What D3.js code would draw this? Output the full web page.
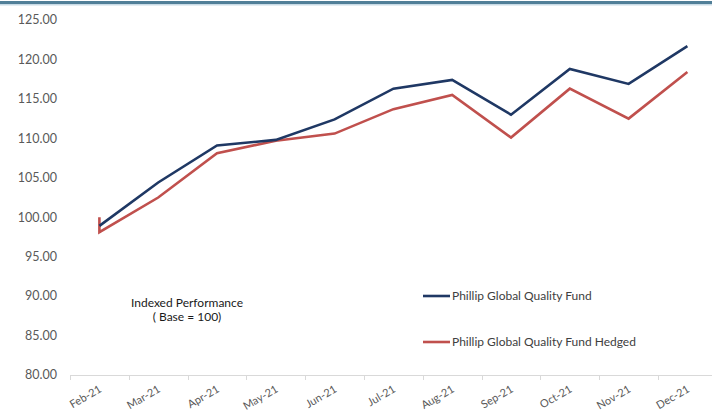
<!DOCTYPE html>
<html>
<head>
<meta charset="utf-8">
<script src="https://cdn.jsdelivr.net/npm/d3@7"></script>
<style>
  body { margin: 0; background: #fff; }
  svg text { font-family: Lato, "Open Sans", sans-serif; }
</style>
</head>
<body>
<svg id="chart" width="712" height="411"></svg>
<script>
var months = ["Feb-21", "Mar-21", "Apr-21", "May-21", "Jun-21", "Jul-21", "Aug-21", "Sep-21", "Oct-21", "Nov-21", "Dec-21"];
var fund = [98.9, 104.4, 109.1, 109.8, 112.4, 116.3, 117.4, 113.0, 118.8, 116.9, 121.7];
var hedged = [98.1, 102.5, 108.1, 109.7, 110.6, 113.7, 115.5, 110.1, 116.3, 112.5, 118.4];
var hedgedBase = 100;   // hedged line starts from the base value at Feb-21
var yTicks = [80, 85, 90, 95, 100, 105, 110, 115, 120, 125];
var seriesNames = ["Phillip Global Quality Fund", "Phillip Global Quality Fund Hedged"];
var colors = ["#1f3864", "#c0504d"];

var svg = d3.select("#chart");

var margin = {top: 20, left: 70};
var height = 375 - margin.top;

// top border
svg.append("rect").attr("x", 0).attr("y", 1).attr("width", 712).attr("height", 3).attr("fill", "#517f98");
svg.append("rect").attr("x", 0).attr("y", 4).attr("width", 712).attr("height", 1.5).attr("fill", "#c9dbe6");

var x = d3.scaleBand().domain(months).range([0, 58.8 * months.length]);
var y = d3.scaleLinear().domain([80, 125]).range([height, 0]);

var g = svg.append("g").attr("transform", "translate(" + margin.left + "," + margin.top + ")");

// y labels
g.selectAll(".ylab")
    .data(yTicks)
    .enter().append("text")
    .attr("x", -13)
    .attr("y", function(d) { return y(d); })
    .attr("dy", "0.35em")
    .attr("text-anchor", "end")
    .style("font-size", "12.5px")
    .style("fill", "#595959")
    .text(function(d) { return d.toFixed(2); });

// x axis line and ticks
g.append("line")
    .attr("x1", 0).attr("x2", 712 - margin.left)
    .attr("y1", height + 0.5).attr("y2", height + 0.5)
    .style("stroke", "#d9d9d9");

var tickPos = months.map(function(m) { return x(m); }).concat([x.range()[1]]);
g.selectAll(".xtick")
    .data(tickPos)
    .enter().append("line")
    .attr("x1", function(d) { return Math.round(d) + 0.5; })
    .attr("x2", function(d) { return Math.round(d) + 0.5; })
    .attr("y1", height).attr("y2", height + 5)
    .style("stroke", "#d9d9d9");

g.selectAll(".xlab")
    .data(months)
    .enter().append("text")
    .attr("transform", function(d) {
        return "translate(" + (x(d) + x.bandwidth() / 2 + 1) + "," + (height + 13) + ") rotate(-30)";
    })
    .attr("text-anchor", "end")
    .attr("dy", "0.35em")
    .style("font-size", "11px")
    .style("fill", "#595959")
    .text(function(d) { return d; });

var cx = function(m) { return x(m) + x.bandwidth() / 2; };

var line = d3.line()
    .x(function(d) { return d[0]; })
    .y(function(d) { return y(d[1]); });

var fundPts = months.map(function(m, i) { return [cx(m), fund[i]]; });
var hedgedPts = [[cx(months[0]), hedgedBase]].concat(months.map(function(m, i) { return [cx(m), hedged[i]]; }));

g.append("path")
    .datum(hedgedPts)
    .style("stroke", colors[1])
    .style("stroke-width", 2.6)
    .style("fill", "none")
    .attr("d", line);

g.append("path")
    .datum(fundPts)
    .style("stroke", colors[0])
    .style("stroke-width", 2.6)
    .style("fill", "none")
    .attr("d", line);

// annotation
var ann = svg.append("text")
    .attr("x", 187)
    .attr("y", 307)
    .attr("text-anchor", "middle")
    .style("font-size", "12px")
    .style("fill", "#1a1a1a");
ann.append("tspan").attr("x", 187).text("Indexed Performance");
ann.append("tspan").attr("x", 187).attr("dy", 14).text("( Base = 100)");

// legend
var legY = [296, 342];
seriesNames.forEach(function(name, i) {
    svg.append("line")
        .attr("x1", 423).attr("x2", 450)
        .attr("y1", legY[i]).attr("y2", legY[i])
        .style("stroke", colors[i])
        .style("stroke-width", 2.6);
    svg.append("text")
        .attr("x", 452)
        .attr("y", legY[i])
        .attr("dy", "0.35em")
        .style("font-size", "12px")
        .style("fill", "#404040")
        .text(name);
});
</script>
</body>
</html>
